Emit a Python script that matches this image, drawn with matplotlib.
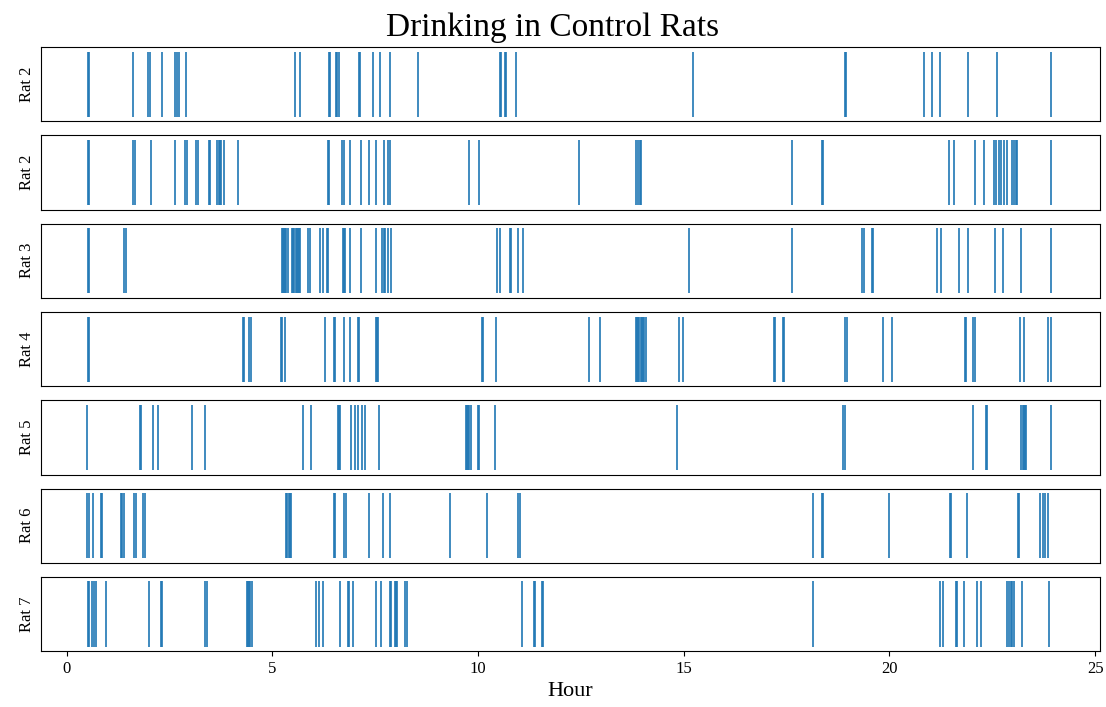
import numpy as np
import matplotlib
matplotlib.use("Agg")
import matplotlib.pyplot as plt

plt.rcParams['font.family'] = ['Liberation Serif', 'DejaVu Serif']

# drinking event times (hours) for each rat
rat_labels = ['Rat 2', 'Rat 2', 'Rat 3', 'Rat 4', 'Rat 5', 'Rat 6', 'Rat 7']

rat2a = [0.52, 0.55, 1.62, 1.965, 2.02, 2.32, 2.63, 2.68, 2.72, 2.89, 5.55, 5.66,
         6.37, 6.40, 6.55, 6.58, 6.62, 7.10, 7.12, 7.44, 7.62, 7.85, 8.54,
         10.53, 10.56, 10.65, 10.68, 10.92, 15.23, 18.92, 18.95, 20.85, 21.03,
         21.22, 21.92, 22.61, 23.93]
rat2b = [0.52, 0.55, 1.62, 1.65, 2.04, 2.62, 2.88, 2.91, 3.13, 3.18, 3.46, 3.49,
         3.66, 3.69, 3.72, 3.75, 3.83, 4.16, 6.35, 6.38, 6.70, 6.73, 6.88, 7.16,
         7.34, 7.51, 7.70, 7.82, 7.85, 9.78, 10.01, 12.46, 13.85, 13.88, 13.94,
         13.97, 17.62, 18.35, 18.38, 21.46, 21.58, 22.07, 22.30, 22.53, 22.60,
         22.66, 22.72, 22.78, 22.85, 22.99, 23.02, 23.07, 23.10, 23.93]
rat3 = [0.52, 0.55, 1.40, 1.43, 5.22, 5.25, 5.28, 5.31, 5.34, 5.37, 5.47, 5.50,
        5.53, 5.56, 5.59, 5.62, 5.65, 5.68, 5.87, 5.90, 6.15, 6.24, 6.32, 6.35,
        6.71, 6.74, 6.77, 6.88, 7.16, 7.51, 7.67, 7.70, 7.73, 7.81, 7.89, 10.47,
        10.52, 10.77, 10.80, 10.96, 11.08, 15.12, 17.62, 19.34, 19.37, 19.58,
        19.61, 21.16, 21.26, 21.69, 21.90, 22.57, 22.77, 23.19, 23.93]
rat4 = [0.52, 0.55, 4.28, 4.31, 4.44, 4.47, 5.20, 5.23, 5.30, 6.27, 6.50, 6.53,
        6.74, 6.88, 7.08, 7.11, 7.51, 7.54, 7.57, 10.10, 10.13, 10.43, 12.70,
        12.96, 13.83, 13.86, 13.89, 13.92, 13.95, 13.98, 14.01, 14.04, 14.07,
        14.89, 14.99, 17.19, 17.22, 17.40, 17.43, 18.93, 18.96, 19.85, 20.07,
        21.84, 21.87, 22.04, 22.07, 23.17, 23.27, 23.85, 23.93]
rat5 = [0.50, 1.78, 1.81, 2.09, 2.22, 3.04, 3.37, 5.75, 5.94, 6.59, 6.62, 6.65,
        6.90, 7.00, 7.07, 7.17, 7.24, 7.59, 9.70, 9.73, 9.76, 9.79, 9.82, 9.99,
        10.02, 10.42, 14.84, 18.88, 18.91, 22.04, 22.34, 22.37, 23.21, 23.24,
        23.27, 23.30, 23.33, 23.92]
rat6 = [0.50, 0.53, 0.64, 0.82, 0.85, 1.32, 1.35, 1.40, 1.64, 1.67, 1.86, 1.89,
        5.33, 5.36, 5.39, 5.42, 5.45, 6.50, 6.53, 6.75, 6.78, 7.35, 7.69, 7.85,
        9.32, 10.21, 10.98, 11.01, 18.15, 18.35, 18.38, 19.99, 21.47, 21.50,
        21.88, 23.12, 23.15, 23.67, 23.73, 23.79, 23.85]
rat7 = [0.51, 0.55, 0.61, 0.66, 0.70, 0.95, 2.00, 2.28, 2.31, 3.37, 3.40, 4.37,
        4.40, 4.43, 4.46, 4.49, 6.05, 6.13, 6.22, 6.65, 6.84, 6.87, 6.95, 7.52,
        7.63, 7.86, 7.89, 7.97, 8.00, 8.03, 8.23, 8.26, 11.07, 11.35, 11.38,
        11.55, 11.58, 18.13, 21.22, 21.31, 21.62, 21.65, 21.82, 22.12, 22.23,
        22.87, 22.90, 22.96, 22.99, 23.02, 23.23, 23.87]

all_rats = [rat2a, rat2b, rat3, rat4, rat5, rat6, rat7]

fig, axes = plt.subplots(len(all_rats), 1, figsize=(11.06, 7.07), dpi=100, sharex=True)
fig.subplots_adjust(left=0.037, right=0.9946, top=0.9335, bottom=0.079, hspace=0.19)

for ax, times, lab in zip(axes, all_rats, rat_labels):
    ax.eventplot(times, colors='#1f77b4', linewidths=1.2)
    ax.set_ylim(0.43, 1.57)
    ax.set_yticks([])
    ax.set_ylabel(lab, fontsize=12)
    ax.tick_params(axis='x', bottom=False, labelbottom=False)

axes[-1].tick_params(axis='x', bottom=True, labelbottom=True, labelsize=12)
axes[-1].set_xlim(-0.63, 25.12)
axes[-1].set_xlabel('Hour', fontsize=16)
fig.suptitle('Drinking in Control Rats', fontsize=24, x=0.5, y=0.982)

plt.savefig('out.png')
